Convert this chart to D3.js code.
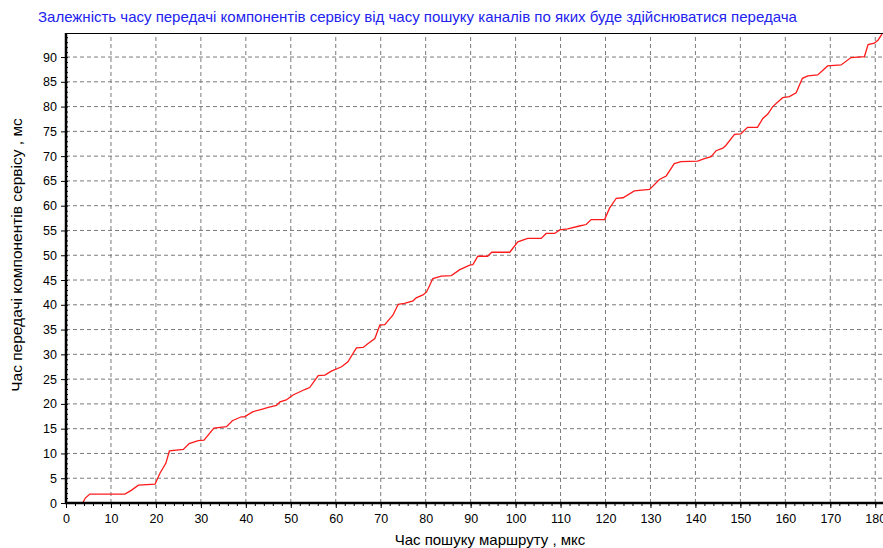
<!DOCTYPE html>
<html>
<head>
<meta charset="utf-8">
<script src="https://cdn.jsdelivr.net/npm/d3@7"></script>
<style>
  body { margin: 0; background: #fff; }
  svg { display: block; font-family: "Liberation Sans", Arial, sans-serif; }
</style>
</head>
<body>
<div id="chart"></div>
<script>
// data
const title = "Залежність часу передачі компонентів сервісу від часу пошуку каналів по яких буде здійснюватися передача";
const xTitle = "Час пошуку маршруту , мкс";
const yTitle = "Час передачі компонентів сервісу , мс";

const xTicks = d3.range(0, 181, 10);
const yTicks = d3.range(0, 91, 5);

const xs = [0, 3.7, 4.3, 5.3, 13.1, 14.6, 16.1, 19.8, 20.9, 22.2, 23, 26.1, 27.4, 29.4, 30.7, 32.9, 35.7, 37, 39, 39.7,
  41.5, 43.5, 45, 46.8, 47.6, 49, 50.5, 53.1, 54.2, 56.1, 57.6, 59, 61.3, 62.7, 64.6, 66.1, 67.2, 68.7, 69.8,
  70.9, 72.7, 73.9, 75.3, 77.2, 77.9, 79.4, 80.2, 81.6, 83.5, 85.7, 87.6, 89.8, 90.5, 91.6, 93.8, 94.7, 98.7,
  100.5, 102.7, 105.7, 106.8, 108.7, 109.8, 111.6, 114.2, 115.7, 116.8, 119.8, 120.9, 122.4, 123.9, 126.4,
  129.8, 132, 133.5, 135.3, 136.8, 140.5, 142, 143.5, 144.6, 146.1, 146.8, 148.7, 150.1, 151.6, 153.8, 155,
  156.1, 157.2, 159.4, 160.9, 162.4, 163.8, 165, 167.2, 169.4, 172.4, 174.6, 177.6, 178.4, 179.8, 180.6, 181.5];
const ys = [0, 0, 1.0, 1.8, 1.8, 2.6, 3.6, 3.8, 6.0, 8.0, 10.5, 10.8, 12, 12.6, 12.7, 15.1, 15.4, 16.6, 17.4, 17.4,
  18.4, 18.9, 19.3, 19.7, 20.4, 20.8, 21.8, 22.9, 23.3, 25.7, 25.8, 26.6, 27.5, 28.5, 31.3, 31.4, 32.2, 33.2, 35.9,
  36, 37.9, 40.1, 40.3, 40.8, 41.4, 42, 42.6, 45.3, 45.8, 45.9, 47.1, 48.0, 48.1, 49.8, 49.8, 50.6, 50.6,
  52.7, 53.4, 53.4, 54.4, 54.4, 55.1, 55.3, 55.9, 56.2, 57.2, 57.2, 59.5, 61.5, 61.6, 63.0,
  63.3, 65.3, 66.0, 68.5, 68.9, 69.0, 69.5, 69.9, 71.1, 71.6, 72.2, 74.4, 74.5, 75.8, 75.8, 77.6,
  78.5, 80, 81.8, 82, 82.8, 85.7, 86.2, 86.4, 88.2, 88.4, 89.9, 90.1, 92.5, 92.8, 93.4, 94.6];

const W = 883, H = 548;
const m = {left: 66, top: 33, right: 1, bottom: 45};

const svg = d3.select('#chart').append('svg')
  .attr('width', W)
  .attr('height', H);

const x = d3.scaleLinear().domain([0, 181.5]).range([m.left, W - m.right]);
const y = d3.scaleLinear().domain([0, 94.85]).range([H - m.bottom, m.top]);

// title
svg.append('text')
  .attr('x', 38)
  .attr('y', 22)
  .style('font-size', '15px')
  .style('fill', '#2222ee')
  .text(title);

// grid
const grid = svg.append('g');
xTicks.filter(t => t > 0).forEach(t => {
  grid.append('line')
    .attr('x1', x(t)).attr('x2', x(t))
    .attr('y1', y.range()[0]).attr('y2', m.top)
    .style('stroke', '#7a7a7a')
    .style('stroke-dasharray', '4,3');
});
yTicks.filter(t => t > 0).forEach(t => {
  grid.append('line')
    .attr('x1', m.left).attr('x2', W)
    .attr('y1', y(t)).attr('y2', y(t))
    .style('stroke', '#7a7a7a')
    .style('stroke-dasharray', '4,3');
});

// top border
svg.append('line')
  .attr('x1', m.left).attr('x2', W)
  .attr('y1', m.top + 0.5).attr('y2', m.top + 0.5)
  .style('stroke', '#000');

// curve
const line = d3.line()
  .x((d, i) => x(xs[i]))
  .y(d => y(d));

svg.append('path')
  .datum(ys)
  .attr('d', line)
  .style('fill', 'none')
  .style('stroke', '#ff1a1a')
  .style('stroke-width', 1.3);

// x axis
const xAxis = svg.append('g')
  .attr('transform', `translate(0,${y(0)})`);
xAxis.call(d3.axisBottom(x).tickValues(d3.range(0, 182, 2)).tickSize(3).tickFormat(''))
  .call(g => g.select('.domain').remove());
xAxis.append('g')
  .call(d3.axisBottom(x).tickValues(xTicks).tickSize(5).tickPadding(6))
  .call(g => g.select('.domain').remove())
  .call(g => g.selectAll('text').style('font-size', '12.5px').style('font-family', '"Liberation Sans", Arial, sans-serif').style('fill', '#000'));
xAxis.selectAll('line').style('stroke', '#000');
xAxis.append('line')
  .attr('x1', m.left - 1).attr('x2', W)
  .style('stroke', '#000')
  .style('stroke-width', 2.5);

// y axis
const yAxis = svg.append('g')
  .attr('transform', `translate(${m.left},0)`);
yAxis.call(d3.axisRight(y).tickValues(d3.range(0, 95, 1)).tickSize(2).tickFormat(''))
  .call(g => g.select('.domain').remove());
yAxis.append('g')
  .call(d3.axisLeft(y).tickValues(yTicks).tickSize(5).tickPadding(4))
  .call(g => g.select('.domain').remove())
  .call(g => g.selectAll('text').style('font-size', '12.5px').style('font-family', '"Liberation Sans", Arial, sans-serif').style('fill', '#000'));
yAxis.selectAll('line').style('stroke', '#000');
yAxis.append('line')
  .attr('y1', m.top).attr('y2', y(0) + 1)
  .style('stroke', '#000')
  .style('stroke-width', 2.5);

// axis titles
svg.append('text')
  .attr('x', 490)
  .attr('y', 545)
  .attr('text-anchor', 'middle')
  .style('font-size', '15px')
  .text(xTitle);

svg.append('text')
  .attr('transform', `translate(22,${255}) rotate(-90)`)
  .attr('text-anchor', 'middle')
  .style('font-size', '15.5px')
  .text(yTitle);
</script>
</body>
</html>
